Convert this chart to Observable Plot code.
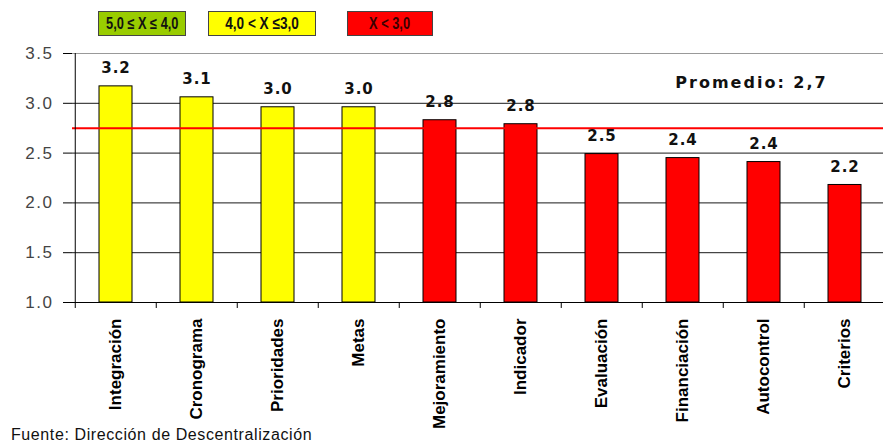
<!DOCTYPE html>
<html>
<head>
<meta charset="utf-8">
<script src="https://cdn.jsdelivr.net/npm/d3@7"></script>
<script src="https://cdn.jsdelivr.net/npm/@observablehq/plot@0.6"></script>
<style>
  body { margin: 0; background: #fff; width: 883px; height: 445px; overflow: hidden; position: relative; font-family: "Liberation Sans", Arial, sans-serif; }
  #legend { position: relative; height: 45px; }
  .lg { position: absolute; top: 11px; height: 25px; border: 1px solid #444; box-sizing: border-box; display: flex; align-items: center; justify-content: center;
        font-family: "Liberation Sans", Arial, sans-serif; font-weight: bold; white-space: pre; }
  .lg span { display: inline-block; transform: scaleX(0.8); }
  #chart svg { display: block; overflow: visible; }
  #caption { position: absolute; left: 11px; top: 426px; font-size: 16px; letter-spacing: 0.6px; color: #111; white-space: nowrap; }
  g[aria-label="y-axis tick label"] text { letter-spacing: 1.5px; }
</style>
</head>
<body>
<div id="legend"></div>
<div id="chart"></div>
<div id="caption"></div>
<script>
// ---- data ----
const categories = ["Integración", "Cronograma", "Prioridades", "Metas", "Mejoramiento", "Indicador", "Evaluación", "Financiación", "Autocontrol", "Criterios"];
const values = [3.17, 3.06, 2.96, 2.96, 2.83, 2.79, 2.49, 2.45, 2.41, 2.18];
const valueLabels = ["3.2", "3.1", "3.0", "3.0", "2.8", "2.8", "2.5", "2.4", "2.4", "2.2"];
const groups = ["mid", "mid", "mid", "mid", "low", "low", "low", "low", "low", "low"];
const average = 2.75;
const averageLabel = "Promedio: 2,7";
const legendLabels = ["5,0 ≤ X ≤ 4,0", "4,0 < X ≤3,0", "X < 3,0"];
const legendGroups = ["high", "mid", "low"];
const yTicks = [1.0, 1.5, 2.0, 2.5, 3.0, 3.5];
const captionText = "Fuente: Dirección de Descentralización";

// ---- styles ----
const groupColors = { high: "#99cc00", mid: "#ffff00", low: "#ff0000" };
const legendLayout = [
  { left: 98, width: 88, fontSize: 16, color: "#111" },
  { left: 208, width: 108, fontSize: 17, color: "#111" },
  { left: 347, width: 86, fontSize: 16, color: "#3a0000" }
];

// legend
const legend = document.getElementById("legend");
legendLabels.forEach((t, i) => {
  const d = document.createElement("div");
  d.className = "lg";
  const L = legendLayout[i];
  d.style.left = L.left + "px";
  d.style.width = L.width + "px";
  d.style.fontSize = L.fontSize + "px";
  d.style.color = L.color;
  d.style.background = groupColors[legendGroups[i]];
  const s = document.createElement("span");
  s.textContent = t;
  d.appendChild(s);
  legend.appendChild(d);
});
document.getElementById("caption").textContent = captionText;

// chart
const W = 883, H = 400, ML = 72, MR = -4;
const step = (W - ML - MR) / categories.length;
const data = categories.map((c, i) => ({ category: c, value: values[i], label: valueLabels[i], group: groups[i] }));

const chart = Plot.plot({
  width: W, height: H,
  marginLeft: ML, marginRight: MR, marginTop: 8, marginBottom: 143,
  x: { domain: categories, paddingInner: 0, paddingOuter: 0, label: null },
  y: { domain: [1, 3.5], label: null },
  style: { background: "#fff", color: "#000", fontFamily: "Liberation Sans, Arial, sans-serif" },
  marks: [
    Plot.ruleY(yTicks.filter(t => t > 1 && t < 3.5), { stroke: "#1a1a1a", strokeWidth: 1 }),
    Plot.ruleY([3.5], { stroke: "#999", strokeWidth: 1 }),
    Plot.barY(data, { x: "category", y1: 1, y2: "value", fill: d => groupColors[d.group], stroke: "#000", strokeWidth: 1, insetLeft: 24, insetRight: 24 }),
    Plot.ruleY([average], { stroke: "#ff0000", strokeWidth: 2 }),
    Plot.ruleY([1], { stroke: "#000" }),
    Plot.ruleX([categories[0]], { x: d => d, y1: 1, y2: 3.5, dx: -step / 2, stroke: "#000" }),
    Plot.ruleX(categories, { x: d => d, y1: 1, y2: 0.94, dx: -step / 2, stroke: "#000" }),
    Plot.axisY({ ticks: yTicks, tickFormat: d => d.toFixed(1), tickSize: 9, tickPadding: 10, fontSize: 17, stroke: "#000", fill: "#444" }),
    Plot.axisX({ tickRotate: -90, tickSize: 0, tickPadding: 16, fontSize: 17, fontWeight: "bold", label: null }),
    Plot.text(data, { x: "category", y: "value", text: "label", dy: -13, lineAnchor: "bottom", fontFamily: "DejaVu Sans", fontWeight: "bold", fontSize: 15, fill: "#111" }),
    Plot.text([averageLabel], { text: d => d, frameAnchor: "top-right", dx: -136, dy: 34, textAnchor: "middle", lineAnchor: "bottom", fontFamily: "DejaVu Sans", fontWeight: "bold", fontSize: 16, fill: "#111" })
  ]
});
d3.select(chart).selectAll('g[font-family="DejaVu Sans"][font-size="15"] text').style("letter-spacing", "1px");
d3.select(chart).selectAll('g[font-family="DejaVu Sans"][font-size="16"] text').style("letter-spacing", "2px");
document.getElementById("chart").appendChild(chart);
</script>
</body>
</html>
